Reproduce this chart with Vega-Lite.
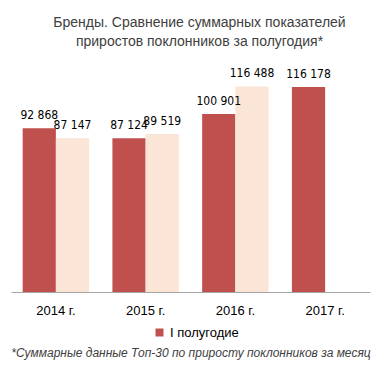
{
  "$schema": "https://vega.github.io/schema/vega-lite/v6.json",
  "width": 359,
  "height": 247,
  "autosize": {"type": "none"},
  "padding": {"left": 11, "top": 45, "right": 11, "bottom": 85},
  "background": "white",
  "config": {
    "view": {"stroke": null},
    "font": "Liberation Sans",
    "locale": {"number": {"decimal": ",", "thousands": " ", "grouping": [3], "currency": ["", ""]}}
  },
  "title": {
    "text": ["Бренды. Сравнение суммарных показателей", "приростов поклонников за полугодия*"],
    "anchor": "middle",
    "fontSize": 14,
    "fontWeight": "normal",
    "color": "#404040",
    "lineHeight": 19,
    "offset": -4,
    "dx": 9
  },
  "data": {
    "values": [
      {"year": "2014 г.", "half": "I полугодие", "value": 92868},
      {"year": "2014 г.", "half": "II полугодие", "value": 87147},
      {"year": "2015 г.", "half": "I полугодие", "value": 87124},
      {"year": "2015 г.", "half": "II полугодие", "value": 89519},
      {"year": "2016 г.", "half": "I полугодие", "value": 100901},
      {"year": "2016 г.", "half": "II полугодие", "value": 116488},
      {"year": "2017 г.", "half": "I полугодие", "value": 116178}
    ]
  },
  "encoding": {
    "x": {
      "field": "year",
      "type": "nominal",
      "scale": {"paddingInner": 0.26, "paddingOuter": 0.13},
      "axis": {
        "labelAngle": 0,
        "ticks": false,
        "domainColor": "#a6a6a6",
        "labelFontSize": 13,
        "labelColor": "#000000",
        "labelPadding": 12,
        "title": "*Суммарные данные Топ-30 по приросту поклонников за месяц",
        "titleFontStyle": "italic",
        "titleFontWeight": "normal",
        "titleFontSize": 12,
        "titleColor": "#404040",
        "titlePadding": 30
      }
    },
    "xOffset": {"field": "half", "type": "nominal", "scale": {"domain": ["I полугодие", "II полугодие"], "paddingInner": 0, "paddingOuter": 0}},
    "y": {"field": "value", "type": "quantitative", "scale": {"domain": [0, 140000]}, "axis": null}
  },
  "layer": [
    {
      "mark": {"type": "bar"},
      "encoding": {
        "color": {
          "field": "half",
          "type": "nominal",
          "scale": {"domain": ["I полугодие", "II полугодие"], "range": ["#C0504D", "#FBE5D6"]},
          "legend": {
            "values": ["I полугодие"],
            "orient": "none",
            "legendX": 142,
            "legendY": 281,
            "title": null,
            "symbolType": "square",
            "symbolSize": 64,
            "labelFontSize": 13,
            "labelColor": "#000000"
          }
        }
      }
    },
    {
      "mark": {"type": "text", "baseline": "bottom", "dy": -6, "fontSize": 12, "font": "DejaVu Sans Condensed", "color": "#000000"},
      "encoding": {
        "text": {"field": "value", "type": "quantitative", "format": ",d"}
      }
    }
  ]
}
